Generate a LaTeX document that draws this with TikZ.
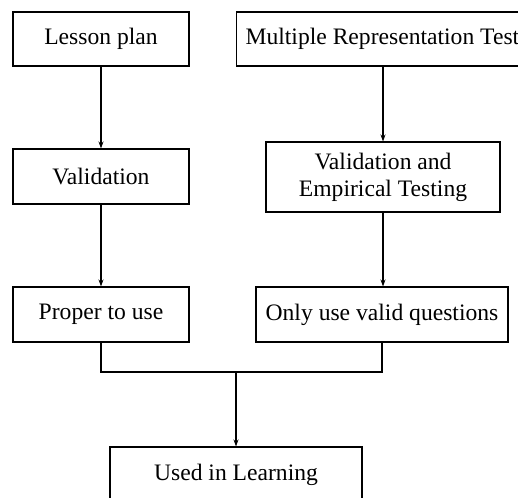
\documentclass[tikz,border=0pt]{standalone}
\usepackage{fontspec}
\setmainfont{Liberation Serif}
\usetikzlibrary{arrows.meta,positioning}
\tikzset{
  box/.style={draw, line width=1.1pt, inner sep=0pt, align=center, font=\fontsize{23.6}{27}\selectfont},
  arr/.style={line width=1.1pt, -{Stealth[length=7pt,width=5pt]}},
  ln/.style={line width=1.1pt}
}
\begin{document}
\begin{tikzpicture}[x=1pt,y=-1pt]
\useasboundingbox (0,0) rectangle (518,497);
\clip (0,0) rectangle (518,497);
\node[box, minimum width=176pt, minimum height=54pt] (lp) at (101,39) {Lesson plan};
\node[box, anchor=west, minimum height=54pt, inner xsep=9pt] (mrt) at (236,39) {Multiple Representation Test};
\node[box, minimum width=176pt, minimum height=55pt] (val) at (101,176.5) {Validation};
\node[box, minimum width=234pt, minimum height=70pt] (vet) at (383,177) {Validation and\\Empirical Testing};
\node[box, minimum width=176pt, minimum height=55pt] (ptu) at (101,314.5) {Proper to use};
\node[box, minimum width=252pt, minimum height=55pt] (ouv) at (382,314.5) {Only use valid questions};
\node[box, minimum width=252pt, minimum height=55pt] (uil) at (236,474.5) {Used in Learning};
\coordinate (j) at (236,372);
\draw[arr] (lp.south) -- (val.north);
\draw[arr] (vet.north |- mrt.south) -- (vet.north);
\draw[arr] (val.south) -- (ptu.north);
\draw[arr] (vet.south) -- (vet.south |- ouv.north);
\draw[ln] (ptu.south) |- (j) -| (ouv.south);
\draw[arr] (j) -- (uil.north);
\end{tikzpicture}
\end{document}
